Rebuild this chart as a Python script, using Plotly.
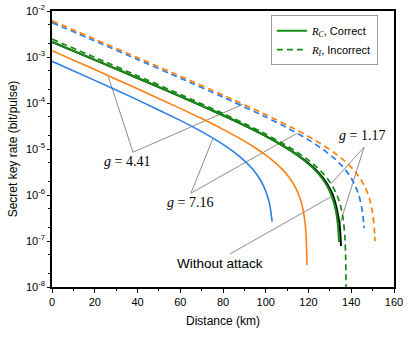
import numpy as np
import plotly.graph_objects as go

# ---------------- data (distance in km, log10 of key rate) ----------------
blue_solid_d = [0, 20, 40, 60, 70, 80, 85, 90, 94, 97, 99, 101, 102, 103]
blue_solid_lg = [-3.093, -3.508, -3.932, -4.378, -4.623, -4.90, -5.062, -5.253, -5.445, -5.635, -5.806, -6.053, -6.248, -6.58]

orange_solid_d = [0, 20, 40, 60, 70, 80, 90, 95, 100, 104, 108, 111, 114, 116, 117.5, 118.5, 119, 119.3]
orange_solid_lg = [-2.862, -3.274, -3.69, -4.117, -4.339, -4.573, -4.829, -4.972, -5.132, -5.279, -5.454, -5.62, -5.843, -6.065, -6.329, -6.656, -6.997, -7.52]

green_solid_d = [0, 20, 40, 60, 80, 90, 100, 107, 113, 118, 122, 125, 128, 130, 131.5, 132.8, 133.7, 134.3]
green_solid_lg = [-2.671, -3.063, -3.456, -3.855, -4.269, -4.488, -4.722, -4.904, -5.079, -5.248, -5.41, -5.559, -5.75, -5.924, -6.105, -6.343, -6.626, -7.02]

black_d = [0, 20, 40, 60, 80, 90, 100, 107, 113, 118, 122, 125, 128, 130, 131.5, 133, 134, 134.7, 135.2]
black_lg = [-2.671, -3.063, -3.456, -3.855, -4.267, -4.486, -4.718, -4.898, -5.07, -5.235, -5.392, -5.531, -5.707, -5.861, -6.013, -6.26, -6.487, -6.723, -7.11]

green_dash_d = [0, 20, 40, 60, 80, 90, 100, 108, 114, 119, 123, 126, 129, 131.5, 133.5, 135, 136.2, 137, 137.4, 137.56]
green_dash_lg = [-2.611, -3.008, -3.407, -3.811, -4.227, -4.445, -4.676, -4.879, -5.048, -5.209, -5.359, -5.491, -5.653, -5.828, -6.021, -6.234, -6.516, -6.891, -7.372, -8.05]

orange_dash_d = [0, 20, 40, 60, 80, 100, 115, 125, 132, 137, 141, 144, 146.5, 148.5, 150, 150.8, 151.1]
orange_dash_lg = [-2.211, -2.611, -3.013, -3.417, -3.827, -4.253, -4.60, -4.862, -5.078, -5.263, -5.447, -5.626, -5.829, -6.073, -6.394, -6.743, -7.0]

blue_dash_d = [0, 20, 40, 60, 80, 100, 110, 120, 127, 132, 136, 139, 141.5, 143.5, 145, 145.8, 146]
blue_dash_lg = [-2.251, -2.651, -3.053, -3.458, -3.871, -4.304, -4.539, -4.801, -5.016, -5.20, -5.383, -5.559, -5.758, -5.994, -6.294, -6.597, -6.72]

x_ticks = [0, 20, 40, 60, 80, 100, 120, 140, 160]
y_tickvals = [1e-8, 1e-7, 1e-6, 1e-5, 1e-4, 1e-3, 1e-2]
y_ticktext = ["10<sup>-8</sup>", "10<sup>-7</sup>", "10<sup>-6</sup>", "10<sup>-5</sup>",
              "10<sup>-4</sup>", "10<sup>-3</sup>", "10<sup>-2</sup>"]

BLUE = "#2B7DE9"
ORANGE = "#FF7F0E"
GREEN = "#148C14"

curves = {
    "blue_solid": (blue_solid_d, blue_solid_lg),
    "orange_solid": (orange_solid_d, orange_solid_lg),
    "green_solid": (green_solid_d, green_solid_lg),
    "black": (black_d, black_lg),
    "green_dash": (green_dash_d, green_dash_lg),
    "orange_dash": (orange_dash_d, orange_dash_lg),
    "blue_dash": (blue_dash_d, blue_dash_lg),
}

# (text, label d, label log y, converge d, converge log y, [(curve, target d)])
labels = [
    ("<i>g</i> = 4.41", 35.1, -5.28, 37.9, -5.07, [("orange_solid", 26.2), ("orange_dash", 89.4)]),
    ("<i>g</i> = 7.16", 64.6, -6.17, 65.0, -5.96, [("blue_solid", 75.3), ("blue_dash", 114.6)]),
    ("<i>g</i> = 1.17", 145.0, -4.70, 146.0, -4.96, [("green_dash", 130.5), ("black", 134.5)]),
]
noattack_label = ("Without attack", 78.6, -7.48, 83.3, -7.28, [("black", 131.5)])


def pw(lg):
    return [10 ** v for v in lg]


fig = go.Figure()

for text, lx, ly, cx, cy, targets in labels + [noattack_label]:
    for name, td in targets:
        d, lg = curves[name]
        ty = float(np.interp(td, d, lg))
        fig.add_trace(go.Scatter(x=[cx, td], y=[10 ** cy, 10 ** ty], mode="lines",
                                 line=dict(color="#707070", width=0.8),
                                 showlegend=False, hoverinfo="skip"))

dash = "6px,4px"


def ln(color, width, dsh=None):
    d = dict(color=color, width=width, shape="spline", smoothing=0.5)
    if dsh:
        d["dash"] = dsh
    return d


fig.add_trace(go.Scatter(x=blue_dash_d, y=pw(blue_dash_lg), mode="lines",
                         line=ln(BLUE, 1.7, dash), showlegend=False))
fig.add_trace(go.Scatter(x=orange_dash_d, y=pw(orange_dash_lg), mode="lines",
                         line=ln(ORANGE, 1.7, dash), showlegend=False))
fig.add_trace(go.Scatter(x=blue_solid_d, y=pw(blue_solid_lg), mode="lines",
                         line=ln(BLUE, 1.6), showlegend=False))
fig.add_trace(go.Scatter(x=orange_solid_d, y=pw(orange_solid_lg), mode="lines",
                         line=ln(ORANGE, 1.6), showlegend=False))
fig.add_trace(go.Scatter(x=black_d, y=pw(black_lg), mode="lines",
                         line=ln("black", 2), showlegend=False))
fig.add_trace(go.Scatter(x=green_solid_d, y=pw(green_solid_lg), mode="lines",
                         line=ln(GREEN, 2),
                         name="<span style='font-family:Liberation Serif'><i>R<sub>C</sub></i></span>, Correct"))
fig.add_trace(go.Scatter(x=green_dash_d, y=pw(green_dash_lg), mode="lines",
                         line=ln(GREEN, 1.7, dash),
                         name="<span style='font-family:Liberation Serif'><i>R<sub>I</sub></i></span>, Incorrect"))

for text, lx, ly, cx, cy, targets in labels:
    fig.add_annotation(x=lx, y=ly, xref="x", yref="y", text=text, showarrow=False,
                       font=dict(family="Liberation Serif", size=14, color="black"))
text, lx, ly, cx, cy, targets = noattack_label
fig.add_annotation(x=lx, y=ly, xref="x", yref="y", text=text, showarrow=False,
                   font=dict(family="Liberation Sans", size=13.5, color="black"))

fig.update_layout(
    width=415, height=337,
    margin=dict(l=52, r=21, t=11, b=50, autoexpand=False),
    plot_bgcolor="white", paper_bgcolor="white",
    font=dict(family="Liberation Sans", size=11, color="black"),
    legend=dict(x=0.64, y=0.985, xanchor="left", yanchor="top",
                bgcolor="white", bordercolor="#999999", borderwidth=1,
                font=dict(size=11), tracegroupgap=0, itemwidth=30),
    showlegend=True,
)
fig.update_xaxes(range=[0, 160], tickvals=x_ticks, showgrid=False, zeroline=False,
                 automargin=False,
                 showline=True, linecolor="black", linewidth=1.5, mirror=True,
                 ticks="outside", ticklen=4, tickcolor="black",
                 minor=dict(ticks="outside", ticklen=2, dtick=10, tickcolor="black"),
                 title=dict(text="Distance (km)", font=dict(size=12), standoff=10))
fig.update_yaxes(type="log", range=[-8, -2], tickvals=y_tickvals, ticktext=y_ticktext,
                 showgrid=False, zeroline=False, automargin=False,
                 showline=True, linecolor="black", linewidth=1.5, mirror=True,
                 ticks="outside", ticklen=3, tickcolor="black",
                 minor=dict(ticks="outside", ticklen=2, tickcolor="black"),
                 title=dict(text="Secret key rate (bit/pulse)", font=dict(size=12), standoff=6))

fig.write_html("out.html", config={"displayModeBar": False},
               post_script="document.body.style.margin='0px';")
